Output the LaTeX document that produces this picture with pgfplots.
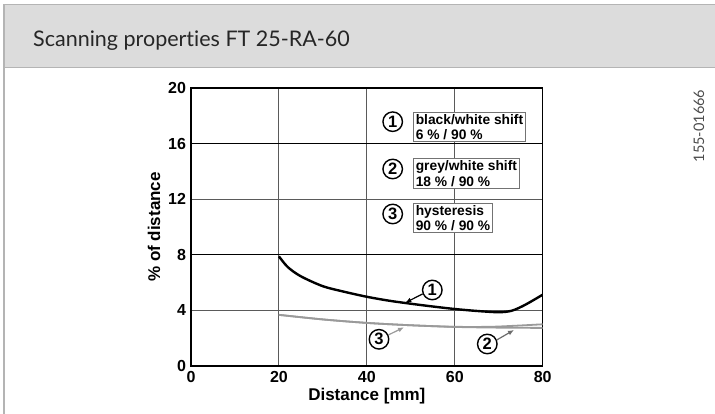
\documentclass[border=0pt]{standalone}
\usepackage{fontspec}
\setmainfont{Liberation Sans}
\newfontfamily\gill[Ligatures={NoCommon,NoRequired,NoContextual}]{Lato}
\usepackage{pgfplots}
\pgfplotsset{compat=1.18}
\usetikzlibrary{arrows.meta}

\definecolor{hdr}{HTML}{DCDCDC}
\definecolor{hdrline}{HTML}{B4B4B4}
\definecolor{curvegray}{HTML}{9A9A9A}
\definecolor{gridgray}{HTML}{5A5A5A}

\begin{document}
\begin{tikzpicture}[x=1pt,y=1pt]
\useasboundingbox (0,0) rectangle (715,414);
\fill[white] (0,0) rectangle (715,414);
% header band
\fill[hdr] (4,346.5) rectangle (715,409.5);
\draw[hdrline, line width=1.2pt] (4,0) -- (4,409.5) -- (715,409.5);
\draw[hdrline, line width=1.2pt] (4,346.5) -- (715,346.5);
\node[anchor=base west, inner sep=0pt, font=\gill\fontsize{21.5}{24}\selectfont, text=black!85] at (33,367) {Scanning properties FT 25-RA-60};
\node[rotate=90, font=\gill\fontsize{14.5}{16}\selectfont, text=black!70] at (699,288) {155-01666};

\begin{axis}[
  at={(191pt,48pt)}, anchor=south west,
  width=351.7pt, height=278pt, scale only axis,
  xmin=0, xmax=80, ymin=0, ymax=20,
  xtick={0,20,40,60,80}, ytick={0,4,12,20},
  extra y ticks={8,16},
  extra y tick style={major grid style={black, line width=0.9pt}},
  major tick length=0pt,
  grid=major,
  major grid style={gridgray, line width=0.9pt},
  axis line style={black, line width=1.1pt},
  /pgf/number format/assume math mode=true,
  tick label style={font=\bfseries\fontsize{16}{18}\selectfont},
  xticklabel style={yshift=-1.5pt},
  yticklabel style={xshift=-1.5pt},
  xlabel={Distance [mm]},
  ylabel={\% of distance},
  label style={font=\bfseries\fontsize{17}{19}\selectfont},
  xlabel style={at={(axis description cs:0.5,-0.108)}, anchor=center},
  ylabel style={at={(axis description cs:-0.105,0.5)}, anchor=center},
]
% 2: grey/white shift
\addplot[curvegray, line width=1.8pt, smooth] coordinates {
  (20,3.68) (30,3.35) (40,3.10) (50,2.93) (60,2.81) (70,2.76) (80,2.74)
};
% 3: hysteresis
\addplot[curvegray, line width=1.8pt, smooth] coordinates {
  (20,3.68) (30,3.35) (40,3.10) (50,2.93) (60,2.82) (68,2.82) (74,2.90) (80,3.00)
};
% 1: black/white shift
\addplot[black, line width=2.4pt, smooth] coordinates {
  (20,7.89) (22,7.12) (25,6.45) (30,5.74) (35,5.33) (40,4.98) (45,4.70)
  (50,4.48) (55,4.28) (60,4.10) (65,3.96) (70,3.87) (73,3.98) (76,4.40) (80,5.13)
};
\end{axis}

% legend entries
\tikzset{num/.style={circle, draw=black, line width=1.4pt, minimum size=19.5pt, inner sep=0pt, font=\bfseries\fontsize{16.5}{18}\selectfont},
         box/.style={draw=black!55, line width=1pt, fill=white, anchor=north west, align=left, inner sep=2pt, font=\bfseries\fontsize{13.8}{15.5}\selectfont}}
\node[num] at (392.7,292.3) {1};
\node[box] at (413.3,302.3) {black/white shift\\6 \% / 90 \%};
\node[num] at (392.7,245) {2};
\node[box] at (413.3,255.7) {grey/white shift\\18 \% / 90 \%};
\node[num] at (392.7,200) {3};
\node[box] at (413.3,211.3) {hysteresis\\90 \% / 90 \%};

% curve callouts
\node[num, fill=white] (c1) at (432.3,124) {1};
\draw[black, line width=1.2pt, -{Latex[length=6pt,width=5pt]}] (422.5,120) -- (405.3,111.3);
\node[num, fill=white] (c3) at (379,74.7) {3};
\draw[curvegray, line width=1.2pt, -{Latex[length=6pt,width=5pt]}] (388.3,79) -- (404,86.7);
\node[num, fill=white] (c2) at (487.3,70) {2};
\draw[curvegray!70!black, line width=1.2pt, -{Latex[length=6pt,width=5pt]}] (496.7,74) -- (514,84);
\end{tikzpicture}
\end{document}
